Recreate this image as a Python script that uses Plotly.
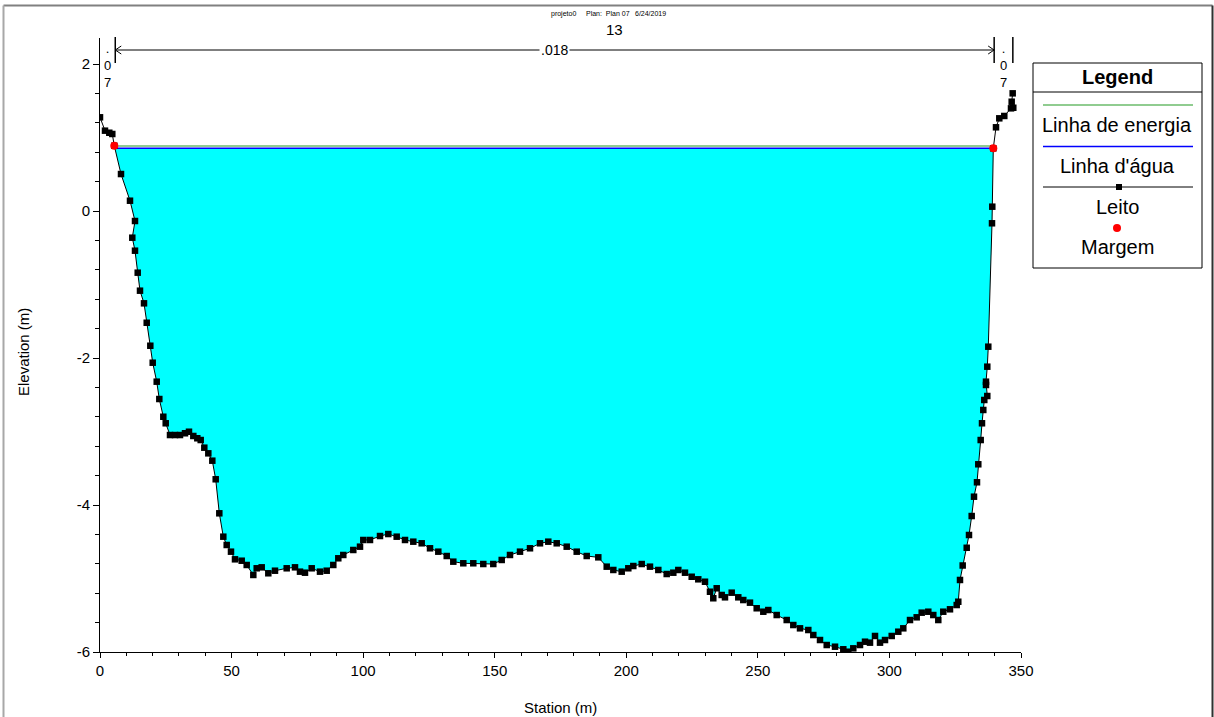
import numpy as np
import plotly.graph_objects as go

# ---------------- data ----------------
station = [0.0, 1.90, 3.53, 4.67, 5.43, 7.98, 11.40, 13.30, 12.27, 13.30, 14.33, 15.20, 16.72,
           17.75, 19.12, 20.03, 21.55, 22.54, 24.06, 24.97, 26.60, 28.50, 30.40, 32.30, 33.82,
           35.46, 36.98, 38.27, 39.64, 41.16, 42.68, 43.97, 45.34, 46.86, 48.15, 49.78, 51.30,
           53.85, 55.75, 58.26, 59.55, 61.45, 63.96, 66.50, 70.95, 74.10, 76.00, 77.90, 80.45,
           83.60, 86.15, 88.66, 90.56, 92.46, 96.26, 98.81, 100.06, 102.61, 106.41, 109.56,
           112.75, 115.91, 119.06, 122.25, 125.41, 128.56, 131.76, 134.26, 138.06, 141.86,
           145.66, 149.46, 152.66, 155.81, 159.61, 163.41, 167.21, 170.36, 173.56, 177.36,
           181.16, 184.96, 189.36, 192.56, 195.07, 198.26, 200.77, 202.67, 205.86, 209.01,
           212.17, 215.36, 217.87, 219.77, 222.31, 224.86, 227.36, 229.91, 231.81, 233.06,
           234.36, 236.26, 237.51, 240.06, 242.56, 244.46, 247.01, 249.56, 252.07, 253.97,
           257.16, 260.96, 263.47, 266.02, 269.17, 271.07, 273.62, 276.17, 279.32, 282.47,
           284.37, 286.27, 288.82, 290.72, 292.62, 294.52, 296.42, 298.32, 300.87, 303.37,
           305.27, 307.82, 310.36, 312.26, 314.77, 316.67, 318.57, 320.47, 323.02, 325.57,
           326.17, 326.82, 327.84, 329.37, 330.24, 331.26, 332.14, 333.28, 333.77, 334.68,
           335.18, 335.67, 336.05, 337.19, 336.70, 336.70, 337.19, 337.57, 338.98, 339.09,
           339.47, 340.50, 341.75, 343.65, 346.20, 347.07, 346.46, 346.84]
elevation = [1.275, 1.093, 1.065, 1.048, 0.888, 0.503, 0.140, -0.136, -0.363, -0.540, -0.839,
             -1.084, -1.256, -1.520, -1.833, -2.064, -2.322, -2.558, -2.799, -2.888, -3.048,
             -3.048, -3.048, -3.024, -3.003, -3.061, -3.092, -3.116, -3.220, -3.297, -3.397,
             -3.650, -4.113, -4.431, -4.544, -4.635, -4.739, -4.758, -4.816, -4.952, -4.861,
             -4.848, -4.929, -4.894, -4.861, -4.848, -4.907, -4.921, -4.861, -4.907, -4.894,
             -4.816, -4.725, -4.680, -4.612, -4.567, -4.476, -4.476, -4.422, -4.395, -4.431,
             -4.476, -4.499, -4.521, -4.589, -4.635, -4.694, -4.771, -4.793, -4.793, -4.803,
             -4.803, -4.748, -4.680, -4.635, -4.589, -4.521, -4.499, -4.521, -4.567, -4.635,
             -4.694, -4.712, -4.839, -4.884, -4.907, -4.861, -4.830, -4.803, -4.839, -4.884,
             -4.939, -4.921, -4.884, -4.921, -4.976, -5.011, -5.044, -5.180, -5.269, -5.133,
             -5.224, -5.256, -5.193, -5.256, -5.293, -5.329, -5.405, -5.452, -5.429, -5.497,
             -5.565, -5.633, -5.678, -5.701, -5.769, -5.837, -5.905, -5.928, -5.963, -5.996,
             -5.950, -5.905, -5.860, -5.873, -5.782, -5.873, -5.837, -5.782, -5.724, -5.678,
             -5.565, -5.528, -5.465, -5.452, -5.497, -5.565, -5.452, -5.419, -5.361, -5.316,
             -5.020, -4.823, -4.582, -4.408, -4.150, -3.887, -3.691, -3.446, -3.116, -2.888,
             -2.707, -2.571, -2.517, -2.367, -2.322, -2.118, -1.846, -0.167, 0.059, 0.853,
             1.139, 1.261, 1.293, 1.397, 1.405, 1.487, 1.601]

bank_station = [5.43, 339.47]
bank_elev = [0.888, 0.853]
ws_elev = 0.853      # Linha d'água
eg_elev = 0.885      # Linha de energia
n_values = [".07", ".018", ".07"]
n_breaks = [0.0, 5.8, 339.8, 346.9]

x_ticks = [0, 50, 100, 150, 200, 250, 300, 350]
y_ticks = [-6, -4, -2, 0, 2]
y_tick_text = ["-6", "-4", "-2", "0", "2"]

# ---------------- water polygon ----------------
s = np.array(station)
z = np.array(elevation)
iL = next(i for i in range(len(z) - 1) if z[i] >= ws_elev > z[i + 1])
iR = max(i for i in range(len(z) - 1) if z[i] < ws_elev <= z[i + 1])
xL = s[iL] + (z[iL] - ws_elev) / (z[iL] - z[iL + 1]) * (s[iL + 1] - s[iL])
xR = s[iR] + (ws_elev - z[iR]) / (z[iR + 1] - z[iR]) * (s[iR + 1] - s[iR])
poly_x = [xL] + list(s[iL + 1:iR + 1]) + [xR, xL]
poly_y = [ws_elev] + list(z[iL + 1:iR + 1]) + [ws_elev, ws_elev]

FONT = "Liberation Sans, Arial, sans-serif"

fig = go.Figure()
fig.add_trace(go.Scatter(x=poly_x, y=poly_y, mode="lines", fill="toself",
                         fillcolor="#00ffff", line=dict(width=0), showlegend=False,
                         hoverinfo="skip"))
fig.add_trace(go.Scatter(x=[xL, xR], y=[eg_elev, eg_elev], mode="lines",
                         line=dict(color="#90cc90", width=2), showlegend=False))
fig.add_trace(go.Scatter(x=[xL, xR], y=[ws_elev, ws_elev], mode="lines",
                         line=dict(color="#0000ff", width=1.5), showlegend=False))
fig.add_trace(go.Scatter(x=station, y=elevation, mode="lines+markers",
                         line=dict(color="black", width=1),
                         marker=dict(symbol="square", size=6.5, color="black"),
                         showlegend=False))
fig.add_trace(go.Scatter(x=bank_station, y=bank_elev, mode="markers",
                         marker=dict(symbol="circle", size=8, color="red"),
                         showlegend=False))

# pixel -> paper helpers (plot area: x 100..1021, y 38..652)
L, R, T, B = 100, 1021, 38, 652
def PX(px):
    return (px - L) / (R - L)
def PY(py):
    return (B - py) / (B - T)

shapes = []
annotations = []

def note(x, y, text, size, xref="paper", **kw):
    d = dict(x=x, y=y, xref=xref, yref="paper", text=text, showarrow=False,
             xanchor="center", yanchor="middle",
             font=dict(family=FONT, size=size, color="black"))
    d.update(kw)
    annotations.append(d)

# outer frame
shapes.append(dict(type="line", xref="paper", yref="paper", x0=PX(3.5), x1=PX(1212.5),
                   y0=PY(5.5), y1=PY(5.5), line=dict(color="#808080", width=2)))
shapes.append(dict(type="line", xref="paper", yref="paper", x0=PX(3.5), x1=PX(3.5),
                   y0=PY(5.5), y1=PY(720), line=dict(color="#a8a8a8", width=2)))
shapes.append(dict(type="line", xref="paper", yref="paper", x0=PX(1212.5), x1=PX(1212.5),
                   y0=PY(5.5), y1=PY(720), line=dict(color="#303030", width=2)))

# n-value divider bars
for xb in n_breaks[1:]:
    shapes.append(dict(type="line", xref="x", yref="paper", x0=xb, x1=xb,
                       y0=PY(63), y1=PY(37), line=dict(color="black", width=1.5)))
# arrow for main channel
shapes.append(dict(type="line", xref="x", yref="paper", x0=n_breaks[1], x1=n_breaks[2],
                   y0=PY(50), y1=PY(50), line=dict(color="black", width=1)))
shapes.append(dict(type="path", xref="x", yref="paper", xsizemode="pixel", ysizemode="pixel",
                   xanchor=n_breaks[1], yanchor=PY(50), path="M 6,4 L 0,0 L 6,-4",
                   line=dict(color="black", width=1)))
shapes.append(dict(type="path", xref="x", yref="paper", xsizemode="pixel", ysizemode="pixel",
                   xanchor=n_breaks[2], yanchor=PY(50), path="M -6,4 L 0,0 L -6,-4",
                   line=dict(color="black", width=1)))
note((n_breaks[1] + n_breaks[2]) / 2, PY(50), n_values[1], 14, xref="x",
     bgcolor="white", borderpad=1)
for i in (0, 2):
    note((n_breaks[i] + n_breaks[i + 1]) / 2, PY(65), "<br>".join(list(n_values[i])), 13,
         xref="x")

# titles
note(PX(563), PY(14), "projeto0", 7)
note(PX(608), PY(14), "Plan:  Plan 07", 7)
note(PX(650), PY(14), "6/24/2019", 7)
note(PX(614), PY(30), "13", 15)
note(PX(560), PY(707), "Station (m)", 15)
note(PX(23), PY(352), "Elevation (m)", 15, textangle=-90)

# custom legend
lx0, lx1 = 1033, 1202
shapes.append(dict(type="rect", xref="paper", yref="paper", x0=PX(lx0), x1=PX(lx1),
                   y0=PY(268), y1=PY(63), line=dict(color="black", width=1),
                   fillcolor="white"))
shapes.append(dict(type="line", xref="paper", yref="paper", x0=PX(lx0), x1=PX(lx1),
                   y0=PY(92), y1=PY(92), line=dict(color="black", width=1)))
note(PX(1117), PY(77), "<b>Legend</b>", 20)
shapes.append(dict(type="line", xref="paper", yref="paper", x0=PX(1043), x1=PX(1193),
                   y0=PY(105), y1=PY(105), line=dict(color="#90cc90", width=2)))
shapes.append(dict(type="line", xref="paper", yref="paper", x0=PX(1043), x1=PX(1193),
                   y0=PY(146.5), y1=PY(146.5), line=dict(color="#0000ff", width=1.5)))
shapes.append(dict(type="line", xref="paper", yref="paper", x0=PX(1043), x1=PX(1193),
                   y0=PY(187), y1=PY(187), line=dict(color="black", width=1)))
shapes.append(dict(type="rect", xref="paper", yref="paper", x0=PX(1116), x1=PX(1122),
                   y0=PY(190), y1=PY(184), line=dict(width=0), fillcolor="black"))
shapes.append(dict(type="circle", xref="paper", yref="paper", x0=PX(1113), x1=PX(1121),
                   y0=PY(232), y1=PY(224), line=dict(width=0), fillcolor="red"))
for txt, yy in [("Linha de energia", 125), ("Linha d'água", 166), ("Leito", 206.5),
                ("Margem", 247)]:
    note(PX(1117), PY(yy), txt, 20)

fig.update_layout(
    width=1214, height=717, autosize=False,
    margin=dict(l=L, r=1214 - R, t=T, b=717 - B, pad=0),
    plot_bgcolor="white", paper_bgcolor="white",
    showlegend=False,
    shapes=shapes, annotations=annotations,
    font=dict(family=FONT, size=15, color="black"),
    xaxis=dict(range=[0, 350], tickvals=x_ticks, ticks="outside", ticklen=5,
               tickcolor="black", showline=True, linecolor="black", linewidth=1,
               showgrid=False, zeroline=False,
               tickfont=dict(family=FONT, size=15, color="black"),
               minor=dict(dtick=10, tick0=0, ticks="outside", ticklen=3, tickcolor="black",
                          showgrid=False)),
    yaxis=dict(range=[-6, 2.354], tickvals=y_ticks, ticktext=y_tick_text, ticks="outside",
               ticklen=6, tickcolor="black", showline=True, linecolor="black", linewidth=1,
               showgrid=False, zeroline=False,
               tickfont=dict(family=FONT, size=15, color="black"),
               minor=dict(dtick=0.4, tick0=-6, ticks="outside", ticklen=4, tickcolor="black",
                          showgrid=False)),
)

fig.write_html("out.html")
